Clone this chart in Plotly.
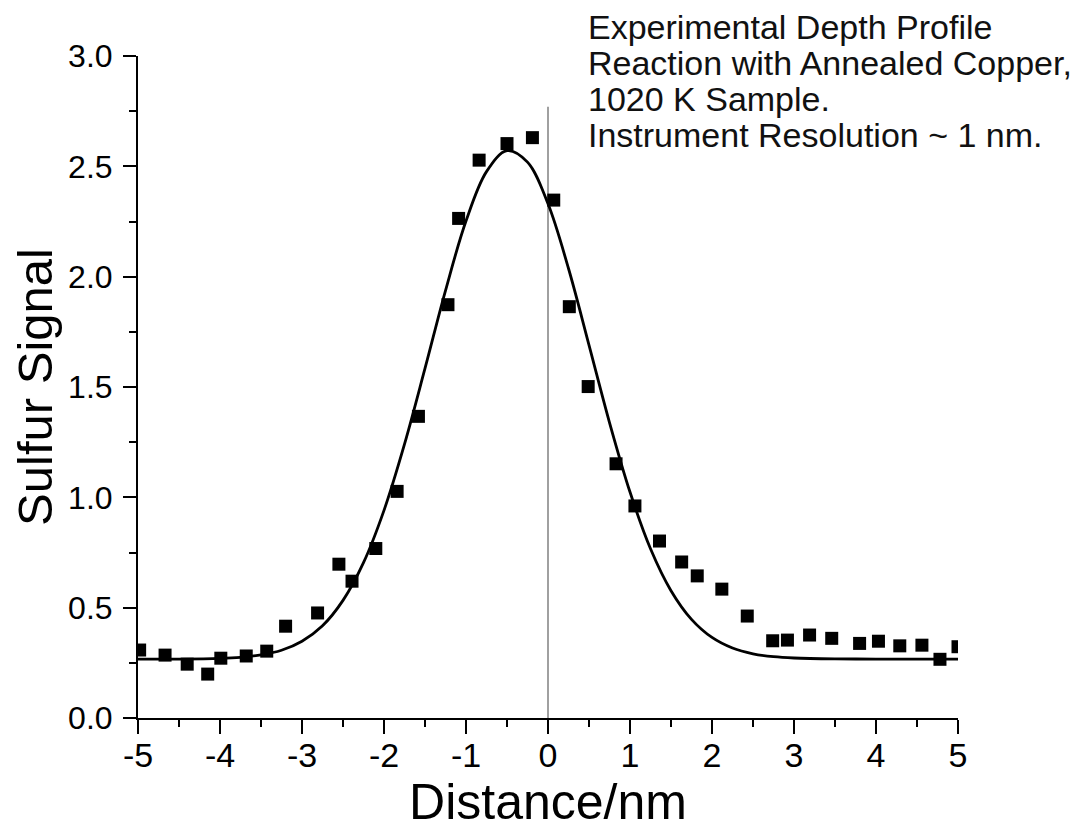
import plotly.graph_objects as go

# Experimental data points (Distance in nm, Sulfur signal)
dist_nm = [-4.98, -4.67, -4.40, -4.15, -3.99, -3.68, -3.43, -3.20, -2.81, -2.55,
           -2.39, -2.10, -1.84, -1.58, -1.22, -1.09, -0.84, -0.50, -0.19, 0.07,
           0.26, 0.49, 0.83, 1.06, 1.36, 1.63, 1.82, 2.12, 2.43, 2.74,
           2.92, 3.19, 3.46, 3.80, 4.03, 4.29, 4.56, 4.78, 5.00]
signal = [0.308, 0.285, 0.244, 0.199, 0.271, 0.281, 0.303, 0.416, 0.476, 0.697,
          0.620, 0.768, 1.027, 1.367, 1.873, 2.264, 2.528, 2.603, 2.630, 2.347,
          1.864, 1.502, 1.152, 0.961, 0.802, 0.707, 0.644, 0.584, 0.462, 0.350,
          0.353, 0.376, 0.361, 0.338, 0.348, 0.327, 0.330, 0.266, 0.323]

# Fitted curve
fit_x = [-5.0, -4.5, -4.0, -3.75, -3.5, -3.25, -3.0, -2.75, -2.5, -2.25,
         -2.0, -1.75, -1.5, -1.25, -1.0, -0.75, -0.5, -0.25, 0.0, 0.25,
         0.5, 0.75, 1.0, 1.25, 1.5, 1.75, 2.0, 2.25, 2.5, 2.75,
         3.0, 3.5, 4.0, 4.5, 5.0]
fit_y = [0.267, 0.267, 0.270, 0.275, 0.286, 0.307, 0.348, 0.418, 0.533, 0.704,
         0.941, 1.241, 1.584, 1.937, 2.252, 2.476, 2.571, 2.519, 2.330, 2.037,
         1.690, 1.339, 1.024, 0.767, 0.577, 0.447, 0.365, 0.317, 0.291, 0.278,
         0.272, 0.268, 0.267, 0.267, 0.267]

# Vertical reference line at zero distance
ref_x = [0, 0]
ref_y = [0, 2.77]

# Tick labels
x_tick_vals = [-5, -4, -3, -2, -1, 0, 1, 2, 3, 4, 5]
x_tick_text = ["-5", "-4", "-3", "-2", "-1", "0", "1", "2", "3", "4", "5"]
y_tick_vals = [0.0, 0.5, 1.0, 1.5, 2.0, 2.5, 3.0]
y_tick_text = ["0.0", "0.5", "1.0", "1.5", "2.0", "2.5", "3.0"]

annotation_lines = ["Experimental Depth Profile",
                    "Reaction with Annealed Copper,",
                    "1020 K Sample.",
                    "Instrument Resolution ~ 1 nm."]
annotation_y_px = [19, 55, 91, 127]

FONT = "Liberation Sans, Arial, sans-serif"

fig = go.Figure()
fig.add_trace(go.Scatter(x=ref_x, y=ref_y, mode="lines",
                         line=dict(color="#808080", width=1.5),
                         showlegend=False, hoverinfo="skip"))
fig.add_trace(go.Scatter(x=fit_x, y=fit_y, mode="lines",
                         line=dict(color="black", width=2.8, shape="spline"),
                         showlegend=False))
fig.add_trace(go.Scatter(x=dist_nm, y=signal, mode="markers",
                         marker=dict(symbol="square", size=13, color="black"),
                         showlegend=False))

W, H = 1083, 838
ml, mr, mt, mb = 130, 133, 48, 128

for txt, ypx in zip(annotation_lines, annotation_y_px):
    fig.add_annotation(text=txt, xref="paper", yref="paper",
                       x=(578 - ml) / (W - ml - mr),
                       y=1 - (ypx - mt) / (H - mt - mb),
                       xanchor="left", yanchor="middle", showarrow=False,
                       font=dict(family=FONT, size=34, color="#111111"))

fig.update_layout(
    width=W, height=H,
    margin=dict(l=ml, r=mr, t=mt, b=mb),
    paper_bgcolor="white", plot_bgcolor="white",
    font=dict(family=FONT, color="black"),
    xaxis=dict(range=[-5, 5], tickmode="array",
               tickvals=x_tick_vals, ticktext=x_tick_text,
               automargin=False,
               showgrid=False, zeroline=False,
               showline=True, linecolor="black", linewidth=2,
               ticks="outside", ticklen=14, tickwidth=2, tickcolor="black",
               tickfont=dict(size=34), ticklabelstandoff=-8,
               minor=dict(tickmode="linear", tick0=-5, dtick=0.5,
                          ticks="outside", ticklen=7,
                          tickwidth=2, tickcolor="black"),
               title=dict(text="Distance/nm", font=dict(size=50), standoff=3)),
    yaxis=dict(range=[0, 3], tickmode="array",
               tickvals=y_tick_vals, ticktext=y_tick_text,
               automargin=False,
               showgrid=False, zeroline=False,
               showline=True, linecolor="black", linewidth=2,
               ticks="outside", ticklen=13, tickwidth=2, tickcolor="black",
               tickfont=dict(size=32), ticklabelstandoff=4,
               minor=dict(tickmode="linear", tick0=0, dtick=0.25,
                          ticks="outside", ticklen=7,
                          tickwidth=2, tickcolor="black"),
               title=dict(text="Sulfur Signal", font=dict(size=49), standoff=11)),
)

fig.write_html("out.html")
